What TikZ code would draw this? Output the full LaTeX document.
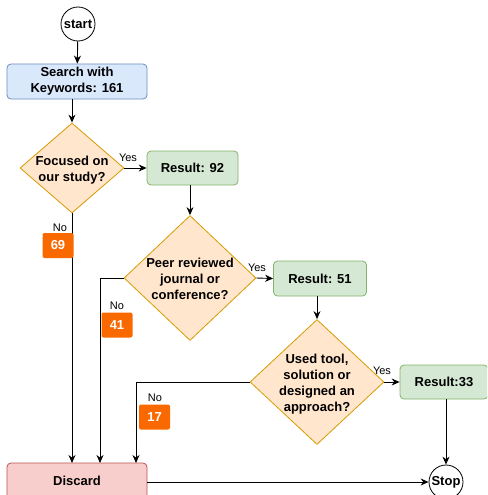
\documentclass[tikz,border=0pt]{standalone}
\usepackage{fontspec}
\setmainfont{Liberation Sans}
\usetikzlibrary{shapes.geometric,arrows.meta}
\definecolor{bluefill}{HTML}{DAE8FC}  \definecolor{blueline}{HTML}{6C8EBF}
\definecolor{greenfill}{HTML}{D5E8D4} \definecolor{greenline}{HTML}{82B366}
\definecolor{redfill}{HTML}{F8CECC}   \definecolor{redline}{HTML}{B85450}
\definecolor{orfill}{HTML}{FFE6CC}    \definecolor{orline}{HTML}{D79B00}
\definecolor{badge}{HTML}{FA6800}
\newcommand{\bigbf}{\fontsize{13}{16}\selectfont\bfseries}
\tikzset{
  box/.style={draw, rounded corners=4pt, line width=0.8pt, inner sep=0pt, font=\bigbf, align=center},
  dia/.style={draw=orline, fill=orfill, diamond, line width=0.8pt, inner sep=0pt},
  txt/.style={font=\bigbf, align=center},
  term/.style={draw, circle, line width=0.8pt, minimum size=34pt, inner sep=0pt, font=\bigbf},
  num/.style={fill=badge, text=white, rounded corners=2pt, minimum width=31pt, minimum height=25pt, inner sep=0pt, font=\bigbf},
  lab/.style={font=\fontsize{11}{13}\selectfont},
  arr/.style={->, line width=0.9pt},
}
\begin{document}
\begin{tikzpicture}[x=1pt, y=-1pt, >={Stealth[length=8pt,width=7pt]}, line join=round]
		\useasboundingbox (0,0) rectangle (487,495);
		\clip (0,0) rectangle (487,495);
		% Knoten
		\node[term] (start) at (78,24) {start};
		\node[box, fill=bluefill, draw=blueline, minimum width=140pt, minimum height=35pt] (search) at (77,81.5) {Search with\\Keywords: 161};
		\node[dia, minimum width=104pt, minimum height=90pt] (q1) at (72,168) {};
		\node[txt] at (72,170.5) {Focused on\\our study?};
		\node[box, fill=greenfill, draw=greenline, minimum width=91pt, minimum height=34pt] (r1) at (192.5,168) {Result: 92};
		\node[dia, minimum width=132pt, minimum height=125pt] (q2) at (190,278) {};
		\node[txt] at (190,279) {Peer reviewed\\journal or\\conference?};
		\node[box, fill=greenfill, draw=greenline, minimum width=93pt, minimum height=35pt] (r2) at (320,278.5) {Result: 51};
		\node[dia, minimum width=134pt, minimum height=125pt] (q3) at (317,382) {};
		\node[txt] at (317,384) {Used tool,\\solution or\\designed an\\approach?};
		\node[box, fill=greenfill, draw=greenline, minimum width=88pt, minimum height=34pt] (r3) at (444,382) {Result:33};
		\node[box, fill=redfill, draw=redline, minimum width=140pt, minimum height=40pt] (discard) at (77,483) {\raisebox{4pt}{Discard}};
		\node[term] (stop) at (446,482) {Stop};
		\coordinate (n1) at (72,213); \coordinate (d1) at (72,463);
		\coordinate (k2) at (100,278); \coordinate (d2) at (100,463);
		\coordinate (k3) at (136,382); \coordinate (d3) at (136,463);
		% Pfeile
		\draw[arr] (start) -- (search);
		\draw[arr] (72,99) -- (q1.north);
		\draw[arr] (q1.east) -- (r1.west);
		\draw[arr] (190,185) -- (q2.north);
		\draw[arr] (q2.east) -- (r2.west);
		\draw[arr] (317,296) -- (q3.north);
		\draw[arr] (q3.east) -- (r3.west);
		\draw[arr] (r3.south -| stop) -- (stop);
		\draw[arr] (discard.east |- stop) -- (stop.west);
		\draw[arr] (n1) -- (d1);
		\draw[arr] (q2.west) -- (k2) -- (d2);
		\draw[arr] (q3.west) -- (k3) -- (d3);
		% Beschriftungen
		\node[lab] (y1) at (128,158) {Yes};
		\node[lab] (y2) at (257,268) {Yes};
		\node[lab] (y3) at (382,371) {Yes};
		\node[lab] (no1) at (60,228) {No};
		\node[num] (c1) at (58,245.5) {69};
		\node[lab] (no2) at (117,306) {No};
		\node[num] (c2) at (117,325) {41};
		\node[lab] (no3) at (155,398) {No};
		\node[num] (c3) at (154.5,417) {17};
\end{tikzpicture}
\end{document}
